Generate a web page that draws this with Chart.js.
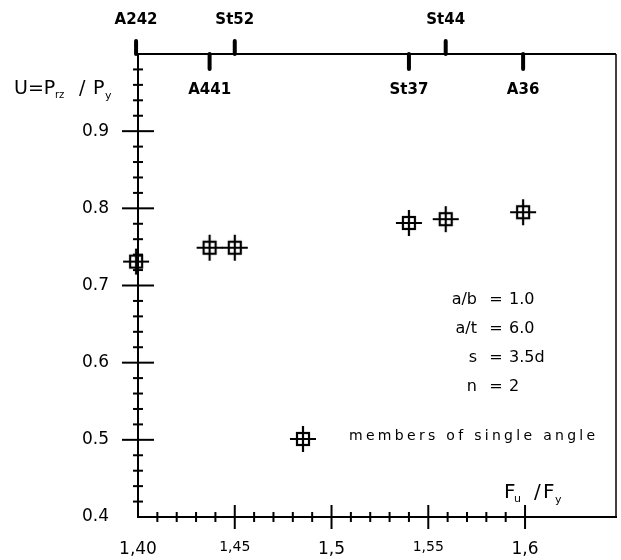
<!DOCTYPE html>
<html>
<head>
<meta charset="utf-8">
<script src="https://cdn.jsdelivr.net/npm/chart.js@4/dist/chart.umd.min.js"></script>
<style>
  html, body { margin: 0; padding: 0; background: #fff; }
  canvas { display: block; }
</style>
</head>
<body>
<canvas id="grafico" width="621" height="560"></canvas>
<script>
// steel grades on the top axis, same order as the measured points
const gradeNames = ['A242', 'A441', 'St52', 'St37', 'St44', 'A36'];
const fuFy = [1.399, 1.437, 1.45, 1.54, 1.559, 1.599];
const uValues = [0.731, 0.749, 0.749, 0.781, 0.786, 0.795];
const gradeAbove = [true, false, true, false, true, false];

const xTickValues = [1.40, 1.45, 1.50, 1.55, 1.60];
const xTickLabels = ['1,40', '1,45', '1,5', '1,55', '1,6'];
const yTickValues = [0.4, 0.5, 0.6, 0.7, 0.8, 0.9];
const yTickLabels = ['0.4', '0.5', '0.6', '0.7', '0.8', '0.9'];

const paramNames = ['a/b', 'a/t', 's', 'n'];
const paramValues = ['1.0', '6.0', '3.5d', '2'];
const legendText = 'members of single angle';

const fonte = '"DejaVu Sans", sans-serif';

// marker: small square with a cross through it
function fazMarcador() {
  const c = document.createElement('canvas');
  c.width = 28; c.height = 28;
  const g = c.getContext('2d');
  g.strokeStyle = '#000';
  g.lineWidth = 2.2;
  g.strokeRect(8, 8, 12, 12);
  g.beginPath();
  g.moveTo(1, 14); g.lineTo(27, 14);
  g.moveTo(14, 1); g.lineTo(14, 27);
  g.stroke();
  return c;
}
const marcador = fazMarcador();

const fundoBranco = {
  id: 'fundoBranco',
  beforeDraw(chart) {
    const ctx = chart.ctx;
    ctx.save();
    ctx.fillStyle = '#fff';
    ctx.fillRect(0, 0, chart.width, chart.height);
    ctx.restore();
  }
};

const desenhos = {
  id: 'desenhos',
  afterDraw(chart) {
    const ctx = chart.ctx;
    const a = chart.chartArea;
    const sx = chart.scales.x, sy = chart.scales.y;
    ctx.save();
    ctx.strokeStyle = '#000';
    ctx.fillStyle = '#000';

    // top and right frame
    ctx.lineWidth = 2;
    ctx.beginPath();
    ctx.moveTo(a.left, a.top); ctx.lineTo(a.right, a.top);
    ctx.stroke();
    ctx.lineWidth = 1.5;
    ctx.beginPath();
    ctx.moveTo(a.right, a.top); ctx.lineTo(a.right, a.bottom);
    ctx.stroke();

    // y ticks every 0.02, long ones every 0.1
    ctx.lineWidth = 2;
    for (let i = 1; i < 30; i++) {
      const v = sy.min + i * 0.02;
      const p = sy.getPixelForValue(v);
      const len = (i % 5 === 0) ? 16 : 5;
      ctx.beginPath();
      ctx.moveTo(a.left - len, p); ctx.lineTo(a.left + len, p);
      ctx.stroke();
    }
    // x ticks every 0.01 up to 1.6
    for (let i = 1; i <= 20; i++) {
      const v = sx.min + i * 0.01;
      const p = sx.getPixelForValue(v);
      const len = (i % 5 === 0) ? 12 : 5;
      ctx.beginPath();
      ctx.moveTo(p, a.bottom - len); ctx.lineTo(p, a.bottom + len);
      ctx.stroke();
    }

    // steel grade marks on the top axis
    ctx.lineWidth = 4;
    ctx.lineCap = 'round';
    ctx.font = 'bold 15px ' + fonte;
    ctx.textAlign = 'center';
    ctx.textBaseline = 'middle';
    gradeNames.forEach((nome, i) => {
      const px = sx.getPixelForValue(fuFy[i]);
      ctx.beginPath();
      if (gradeAbove[i]) {
        ctx.moveTo(px, a.top - 13); ctx.lineTo(px, a.top);
      } else {
        ctx.moveTo(px, a.top); ctx.lineTo(px, a.top + 15);
      }
      ctx.stroke();
      ctx.fillText(nome, px, gradeAbove[i] ? 20 : 90);
    });
    ctx.lineCap = 'butt';

    // y axis title U=P_rz / P_y
    ctx.textAlign = 'left';
    ctx.textBaseline = 'alphabetic';
    ctx.font = '19px ' + fonte;
    ctx.fillText('U=P', 14, 94);
    ctx.font = '10px ' + fonte;
    ctx.fillText('rz', 55, 98);
    ctx.font = '19px ' + fonte;
    ctx.fillText('/', 79, 94);
    ctx.fillText('P', 93, 94);
    ctx.font = '11px ' + fonte;
    ctx.fillText('y', 105, 99);

    // x axis title F_u /F_y
    ctx.font = '20px ' + fonte;
    ctx.fillText('F', 504, 498);
    ctx.font = '11px ' + fonte;
    ctx.fillText('u', 514, 502);
    ctx.font = '20px ' + fonte;
    ctx.fillText('/', 534, 498);
    ctx.fillText('F', 543, 498);
    ctx.font = '11px ' + fonte;
    ctx.fillText('y', 555, 503);

    // parameters
    ctx.font = '16px ' + fonte;
    ctx.textBaseline = 'middle';
    paramNames.forEach((nome, i) => {
      const py = 300 + i * 29;
      ctx.textAlign = 'right';
      ctx.fillText(nome, 477, py);
      ctx.textAlign = 'center';
      ctx.fillText('=', 496, py);
      ctx.textAlign = 'left';
      ctx.fillText(paramValues[i], 509, py);
    });

    // legend
    ctx.drawImage(marcador, 303 - 14, 439 - 14);
    ctx.font = '14px ' + fonte;
    ctx.letterSpacing = '3.3px';
    ctx.textAlign = 'left';
    ctx.fillText(legendText, 349, 436);
    ctx.restore();
  }
};

const pontos = fuFy.map((v, i) => ({ x: v, y: uValues[i] }));

new Chart(document.getElementById('grafico'), {
  type: 'scatter',
  data: {
    datasets: [{
      label: legendText,
      data: pontos,
      pointStyle: marcador,
      borderColor: '#000',
      backgroundColor: '#000',
      clip: false
    }]
  },
  options: {
    responsive: false,
    animation: false,
    devicePixelRatio: 1,
    layout: { padding: { top: 54, right: 4, left: 0, bottom: 0 } },
    plugins: {
      legend: { display: false },
      tooltip: { enabled: false }
    },
    scales: {
      x: {
        type: 'linear',
        min: 1.40,
        max: 1.647,
        afterBuildTicks: s => { s.ticks = xTickValues.map(v => ({ value: v })); },
        afterFit: s => { s.height = 43; },
        grid: { display: false, drawTicks: false },
        border: { display: true, color: '#000', width: 2 },
        ticks: {
          autoSkip: false,
          maxRotation: 0,
          padding: 22,
          color: '#000',
          font: c => ({ family: fonte, size: (c.index % 2 === 1) ? 14 : 17 }),
          callback: (v, i) => xTickLabels[i]
        }
      },
      y: {
        type: 'linear',
        min: 0.4,
        max: 1.0,
        afterBuildTicks: s => { s.ticks = yTickValues.map(v => ({ value: v })); },
        afterFit: s => { s.width = 138; },
        grid: { display: false, drawTicks: false },
        border: { display: true, color: '#000', width: 2 },
        ticks: {
          autoSkip: false,
          padding: 29,
          color: '#000',
          font: { family: fonte, size: 17 },
          callback: (v, i) => yTickLabels[i]
        }
      }
    }
  },
  plugins: [fundoBranco, desenhos]
});
</script>
</body>
</html>
